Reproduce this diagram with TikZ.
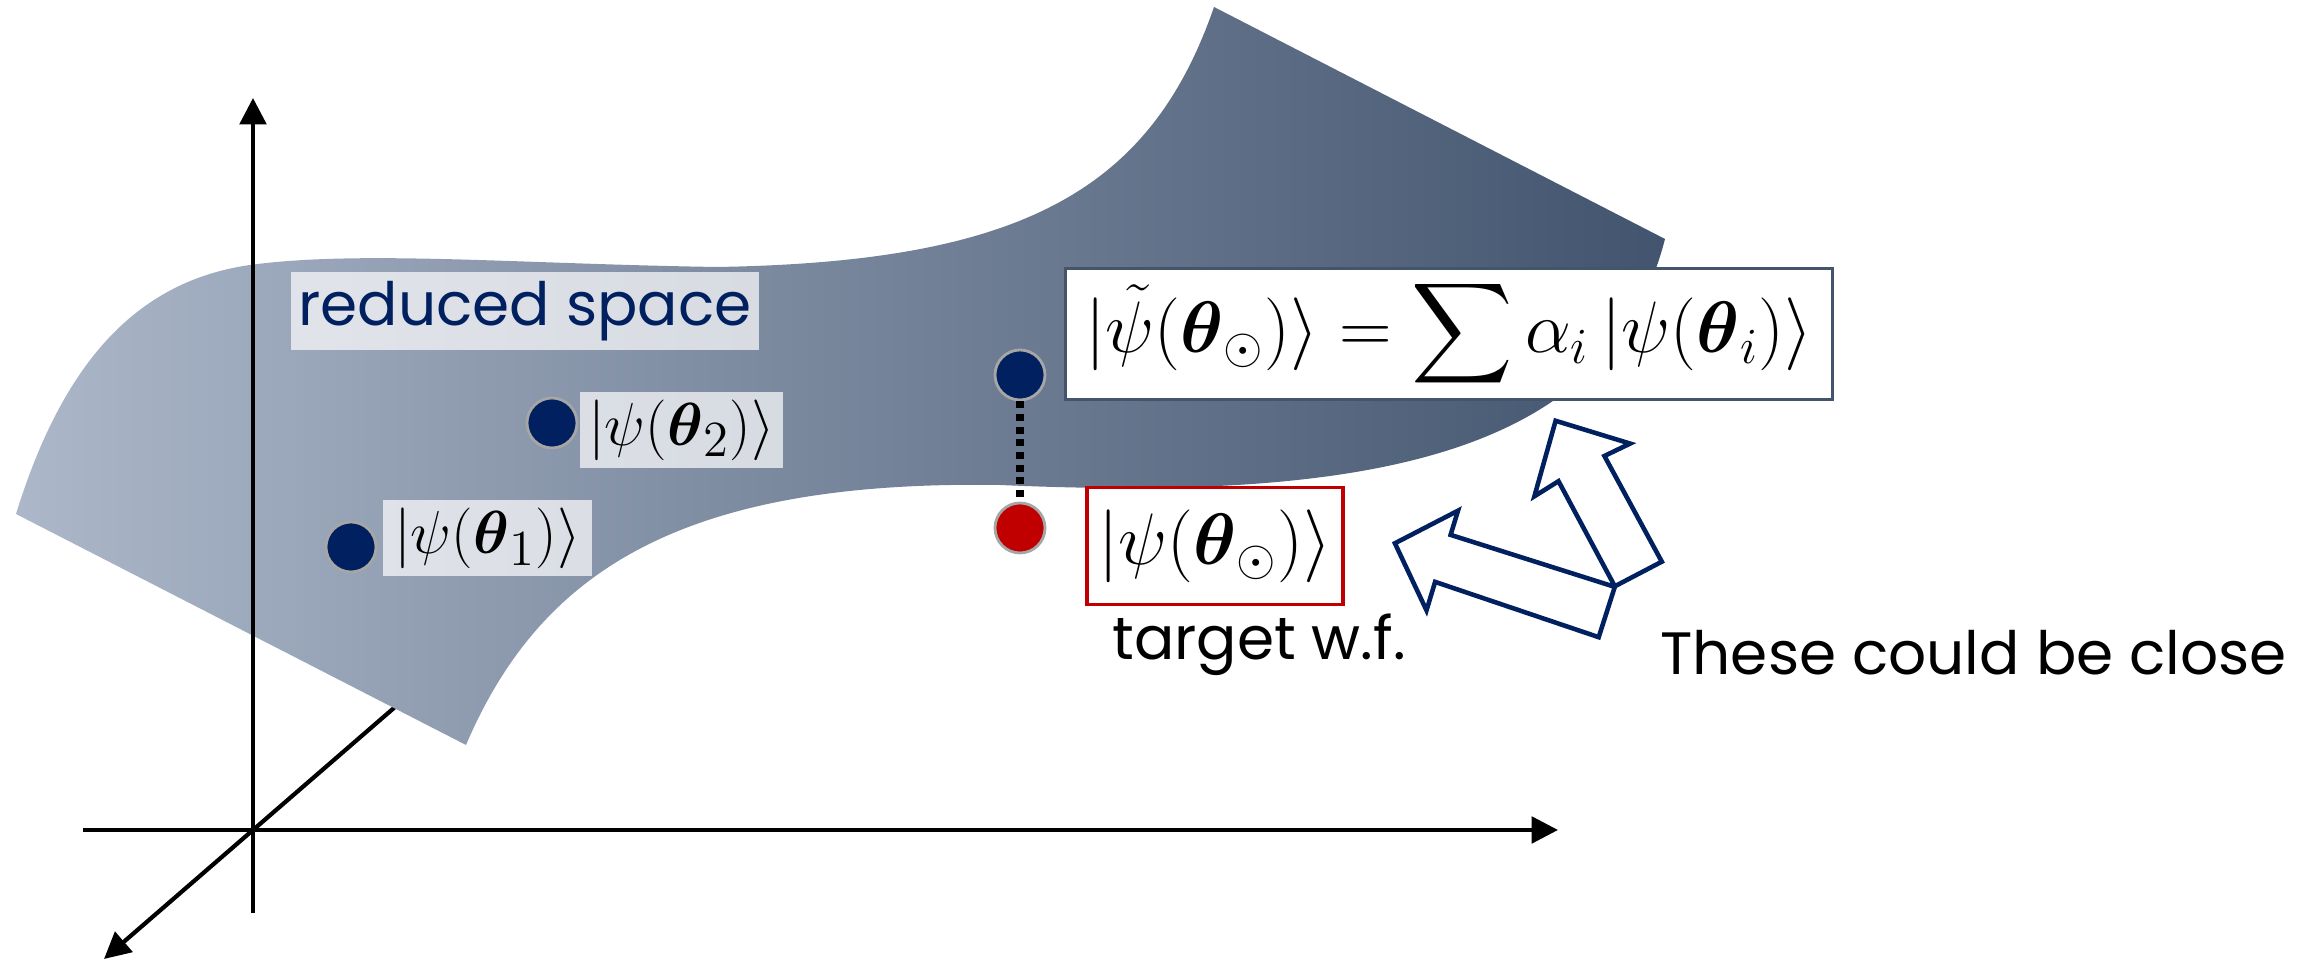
\documentclass[tikz,border=0pt]{standalone}
\usepackage{amsmath,amssymb}
\usepackage{fontspec}
\newfontfamily\handfont{Poppins}
\usepackage{tikz}
\usetikzlibrary{arrows.meta}
\definecolor{navy}{HTML}{002060}
\definecolor{darkred}{HTML}{C00000}
\definecolor{slate}{HTML}{44546A}
\definecolor{surfL}{RGB}{172,183,201}
\definecolor{surfR}{RGB}{66,84,110}
\begin{document}
\begin{tikzpicture}[
  axis/.style={line width=1.2pt, -{Triangle[length=7.5pt,width=7.5pt]}},
  dot/.style={circle, fill=#1, draw=black!35, line width=0.8pt, minimum size=0.5cm, inner sep=0pt},
  dot/.default=navy,
  lbl/.style={fill=white, fill opacity=0.7, text opacity=1, inner sep=0pt, minimum width=#1, minimum height=0.76cm, font=\fontsize{19}{22}\selectfont},
  note/.style={font=\handfont\fontsize{17}{20}\selectfont},
  ket/.style={draw=#1, line width=1pt, fill=white, inner sep=0pt, font=\fontsize{20}{24}\selectfont},
  blk/.style={draw=navy, line width=1.3pt, fill=white, line join=miter}]
\useasboundingbox (0,0) rectangle (23.03,9.62);
\coordinate (O) at (2.53,1.32);
\coordinate (zb) at (4.13,2.705);
\coordinate (zt) at (1.04,0.03);
\coordinate (yb) at (2.53,0.49);
\coordinate (yt) at (2.53,8.64);
\coordinate (xb) at (0.83,1.32);
\coordinate (xt) at (15.58,1.32);
\draw[axis] (zb) -- (zt);
\shade[left color=surfL, right color=surfR] (0.16,4.48) -- (4.66,2.17)
  .. controls (5.4,3.9) and (6.8,4.82) .. (10.0,4.77)
  .. controls (13.8,4.6) and (16.1,5.1) .. (16.65,7.23) -- (12.14,9.55)
  .. controls (11.5,7.7) and (10.2,7.0) .. (7.17,6.95)
  .. controls (5.2,6.98) and (3.6,7.12) .. (2.5,6.97)
  .. controls (1.3,6.8) and (0.6,5.9) .. (0.16,4.48) -- cycle;
\draw[axis] (yb) -- (yt);
\draw[axis] (xb) -- (xt);
\node[lbl=4.68cm, minimum height=0.78cm, text=navy, font=\handfont\fontsize{17}{20}\selectfont] (rs) at (5.25,6.51) {reduced space};
\node[dot] (d1) at (3.51,4.15) {};
\node[dot] (d2) at (5.52,5.39) {};
\node[dot] (dt) at (10.20,5.87) {};
\node[dot=darkred] (dr) at (10.20,4.34) {};
\node[lbl=2.09cm] (k1) at (4.875,4.235) {$|\psi(\boldsymbol{\theta}_1)\rangle$};
\node[lbl=2.03cm] (k2) at (6.815,5.32) {$|\psi(\boldsymbol{\theta}_2)\rangle$};
\draw[line width=2pt, dash pattern=on 2pt off 1.6pt] (dt) -- (dr);
\node[ket=slate, minimum width=7.67cm, minimum height=1.31cm] (eq) at (14.49,6.28) {$\displaystyle |\tilde{\psi}(\boldsymbol{\theta}_{\odot})\rangle = \sum \alpha_i \,|\psi(\boldsymbol{\theta}_i)\rangle$};
\node[ket=darkred, minimum width=2.56cm, minimum height=1.17cm] (tg) at (12.15,4.16) {$|\psi(\boldsymbol{\theta}_{\odot})\rangle$};
\node[note, anchor=base west] (tw) at (11.0,3.02) {target w.f.};
\node[note, anchor=base west] (cl) at (16.48,2.87) {These could be close};
\draw[blk] (15.556,5.412) -- (16.301,5.184) -- (16.044,5.06) -- (16.618,4.003) -- (16.148,3.757) -- (15.585,4.808) -- (15.344,4.657) -- cycle;
\draw[blk] (13.949,4.187) -- (14.580,4.513) -- (14.506,4.271) -- (16.148,3.751) -- (15.987,3.248) -- (14.351,3.801) -- (14.265,3.516) -- cycle;
\end{tikzpicture}
\end{document}
